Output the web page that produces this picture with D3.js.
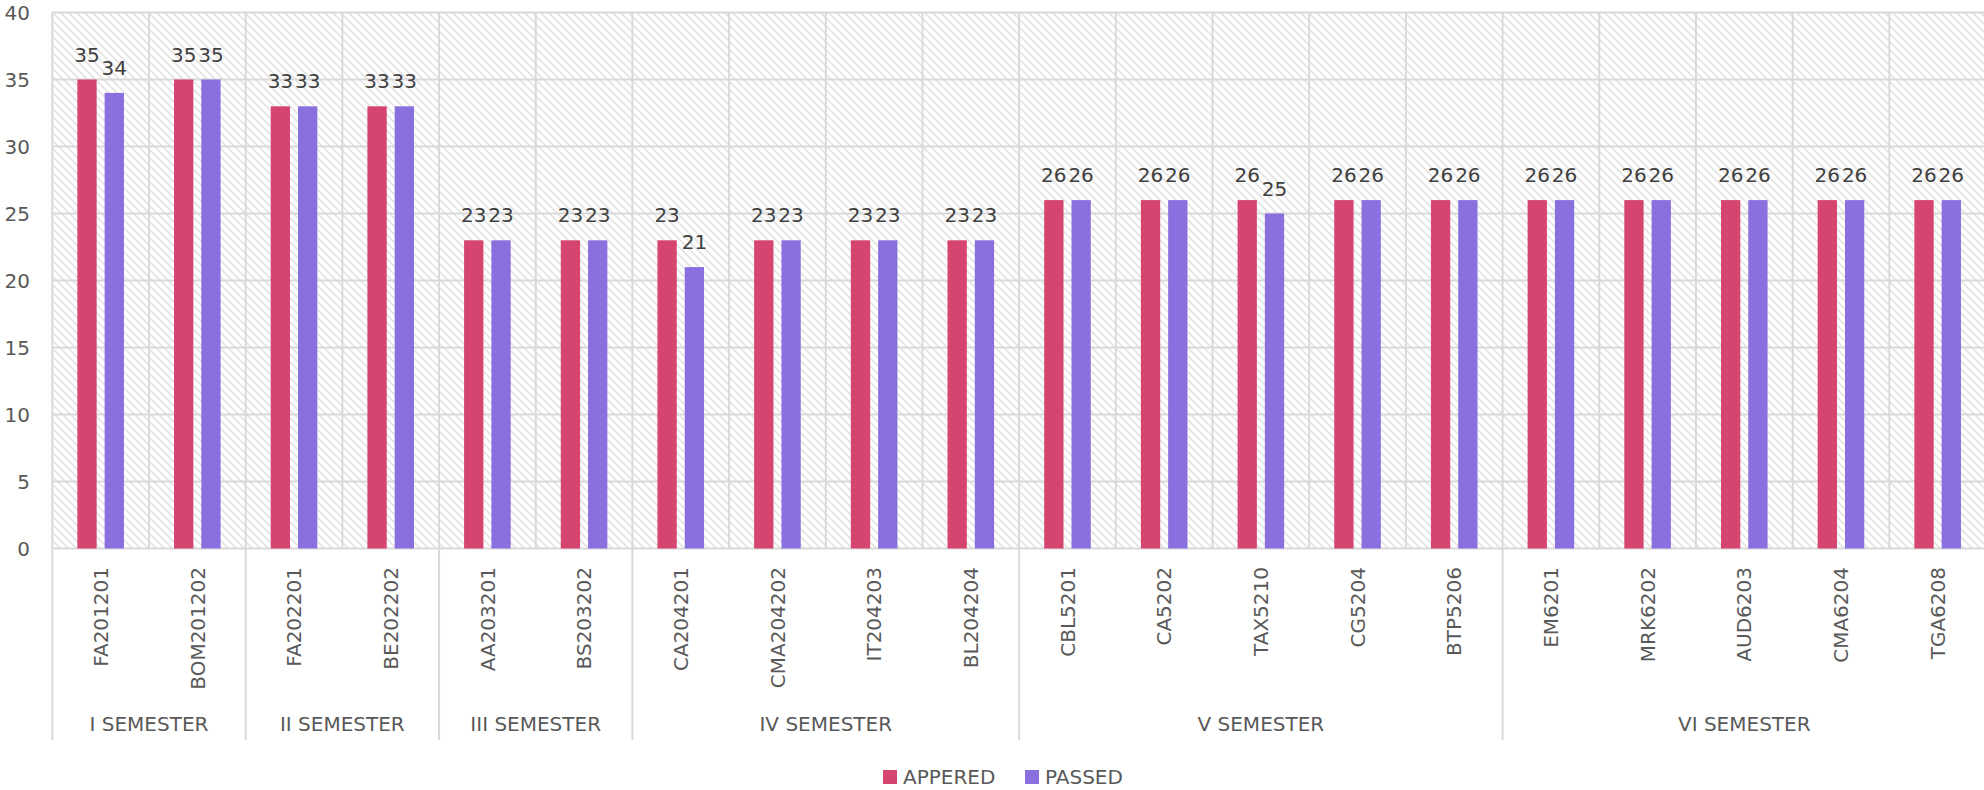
<!DOCTYPE html>
<html>
<head>
<meta charset="utf-8">
<script src="https://cdn.jsdelivr.net/npm/d3@7"></script>
<style>
  body { margin: 0; background: #fff; }
  text { font-family: "DejaVu Sans", sans-serif; }
</style>
</head>
<body>
<div id="chart"></div>
<script>
const semesters = ['I SEMESTER', 'II SEMESTER', 'III SEMESTER', 'IV SEMESTER', 'V SEMESTER', 'VI SEMESTER'];
const subjects = [
    ['FA201201', 'BOM201202'],
    ['FA202201', 'BE202202'],
    ['AA203201', 'BS203202'],
    ['CA204201', 'CMA204202', 'IT204203', 'BL204204'],
    ['CBL5201', 'CA5202', 'TAX5210', 'CG5204', 'BTP5206'],
    ['EM6201', 'MRK6202', 'AUD6203', 'CMA6204', 'TGA6208']
];
const appeared = [35, 35, 33, 33, 23, 23, 23, 23, 23, 23, 26, 26, 26, 26, 26, 26, 26, 26, 26, 26];
const passed = [34, 35, 33, 33, 23, 23, 21, 23, 23, 23, 26, 26, 25, 26, 26, 26, 26, 26, 26, 26];
const seriesNames = ['APPERED', 'PASSED'];
const yTicks = [0, 5, 10, 15, 20, 25, 30, 35, 40];

const colors = { APPERED: '#d54570', PASSED: '#8a6fdf' };
const gridColor = '#d9d9d9';
const labelColor = '#404040';
const axisColor = '#595959';

const width = 1984, height = 790;
const plot = { left: 52.3, right: 1986, top: 12.5, bottom: 548.5 };

const categories = subjects.flat();
const rows = categories.map((c, i) => ({ name: c, APPERED: appeared[i], PASSED: passed[i] }));

const svg = d3.select('#chart')
    .append('svg')
    .attr('width', width)
    .attr('height', height);

// hatch background
const pattern = svg.append('defs')
    .append('pattern')
    .attr('id', 'hatch')
    .attr('patternUnits', 'userSpaceOnUse')
    .attr('width', 8)
    .attr('height', 8);
pattern.append('path')
    .attr('d', 'M0,0 L8,8 M-4,4 L4,12 M4,-4 L12,4')
    .attr('stroke', '#e4e4e4')
    .attr('stroke-width', 1.8);

const x = d3.scaleBand()
    .domain(categories)
    .range([plot.left, plot.right]);

const xInner = d3.scaleBand()
    .domain(seriesNames)
    .range([0, x.bandwidth()])
    .paddingInner(0.293)
    .paddingOuter(0.918);

const y = d3.scaleLinear()
    .domain([0, 40])
    .range([plot.bottom, plot.top]);

svg.append('rect')
    .attr('x', plot.left)
    .attr('y', plot.top)
    .attr('width', plot.right - plot.left)
    .attr('height', plot.bottom - plot.top)
    .attr('fill', 'url(#hatch)');

// horizontal grid
svg.selectAll('.hgrid')
    .data(yTicks)
    .enter()
    .append('line')
    .attr('class', 'hgrid')
    .attr('x1', plot.left)
    .attr('x2', plot.right)
    .attr('y1', (d) => y(d))
    .attr('y2', (d) => y(d))
    .attr('stroke', gridColor)
    .attr('stroke-width', 2);

// vertical grid at category boundaries
svg.selectAll('.vgrid')
    .data(categories)
    .enter()
    .append('line')
    .attr('class', 'vgrid')
    .attr('x1', (d) => x(d))
    .attr('x2', (d) => x(d))
    .attr('y1', plot.top)
    .attr('y2', plot.bottom)
    .attr('stroke', gridColor)
    .attr('stroke-width', 2);

// y tick labels
svg.selectAll('.ytick')
    .data(yTicks)
    .enter()
    .append('text')
    .attr('class', 'ytick')
    .attr('x', 30)
    .attr('y', (d) => y(d))
    .attr('dy', '0.36em')
    .attr('text-anchor', 'end')
    .attr('fill', axisColor)
    .style('font-size', '20px')
    .text((d) => d);

// bars
const groups = svg.selectAll('.cat')
    .data(rows)
    .enter()
    .append('g')
    .attr('class', 'cat')
    .attr('transform', (d) => `translate(${x(d.name)},0)`);

groups.selectAll('rect')
    .data((d) => seriesNames.map((s) => ({ key: s, value: d[s] })))
    .enter()
    .append('rect')
    .attr('x', (d) => xInner(d.key))
    .attr('y', (d) => y(d.value))
    .attr('width', xInner.bandwidth())
    .attr('height', (d) => y(0) - y(d.value))
    .attr('fill', (d) => colors[d.key]);

groups.selectAll('.val')
    .data((d) => seriesNames.map((s) => ({ key: s, value: d[s] })))
    .enter()
    .append('text')
    .attr('class', 'val')
    .attr('x', (d) => xInner(d.key) + xInner.bandwidth() / 2)
    .attr('y', (d) => y(d.value) - 18)
    .attr('text-anchor', 'middle')
    .attr('fill', labelColor)
    .style('font-size', '20px')
    .text((d) => d.value);

// category labels, rotated
svg.selectAll('.catlabel')
    .data(categories)
    .enter()
    .append('text')
    .attr('class', 'catlabel')
    .attr('transform', (d) => `translate(${x(d) + x.bandwidth() / 2},567) rotate(-90)`)
    .attr('text-anchor', 'end')
    .attr('dy', '0.36em')
    .attr('fill', axisColor)
    .style('font-size', '20px')
    .text((d) => d);

// semester separators and labels
const semesterSpans = subjects.map((list, i) => {
    const first = list[0];
    const last = list[list.length - 1];
    return { name: semesters[i], x0: x(first), x1: x(last) + x.bandwidth() };
});

const sepXs = [plot.left].concat(semesterSpans.map((s) => s.x1));
svg.selectAll('.sep')
    .data(sepXs)
    .enter()
    .append('line')
    .attr('class', 'sep')
    .attr('x1', (d) => d)
    .attr('x2', (d) => d)
    .attr('y1', plot.bottom)
    .attr('y2', 740)
    .attr('stroke', gridColor)
    .attr('stroke-width', 2);

svg.selectAll('.semlabel')
    .data(semesterSpans)
    .enter()
    .append('text')
    .attr('class', 'semlabel')
    .attr('x', (d) => (d.x0 + d.x1) / 2)
    .attr('y', 731)
    .attr('text-anchor', 'middle')
    .attr('fill', axisColor)
    .style('font-size', '20px')
    .text((d) => d.name);

// legend
const legendX = [883, 1025];
const legend = svg.selectAll('.legend')
    .data(seriesNames)
    .enter()
    .append('g')
    .attr('class', 'legend')
    .attr('transform', (d, i) => `translate(${legendX[i]},770)`);

legend.append('rect')
    .attr('width', 14)
    .attr('height', 14)
    .attr('fill', (d) => colors[d]);

legend.append('text')
    .attr('x', 20)
    .attr('y', 7)
    .attr('dy', '0.36em')
    .attr('fill', axisColor)
    .style('font-size', '20px')
    .text((d) => d);
</script>
</body>
</html>
